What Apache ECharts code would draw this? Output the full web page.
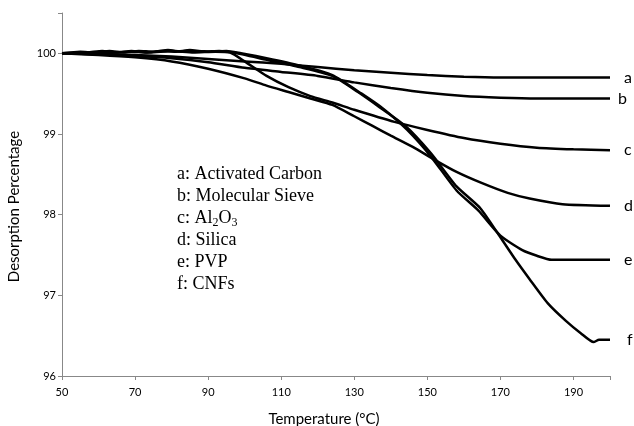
<!DOCTYPE html>
<html>
<head>
<meta charset="utf-8">
<script src="https://cdn.jsdelivr.net/npm/echarts@6.0.0/dist/echarts.min.js"></script>
<style>
  html, body { margin: 0; padding: 0; background: #fff; }
  #main { width: 634px; height: 426px; }
</style>
</head>
<body>
<div id="main"></div>
<script>
// desorption curves, [temperature, percentage]
var carbonData = [[50,100],[60,99.99],[70,99.98],[80,99.96],[90,99.93],[100,99.9],[110,99.87],[120,99.83],[130,99.79],[140,99.76],[150,99.73],[160,99.71],[170,99.7],[180,99.7],[190,99.7],[200,99.7]];
var sieveData = [[50,100],[60,99.99],[70,99.97],[80,99.94],[90,99.89],[100,99.82],[110,99.77],[120,99.72],[130,99.64],[140,99.57],[150,99.51],[160,99.47],[170,99.45],[180,99.44],[190,99.44],[200,99.44]];
var aluminaData = [[50,100],[56,100.01],[62,100],[68,100.02],[74,100.01],[80,100.03],[86,100.01],[92,100.02],[96,100.01],[100,99.9],[106,99.72],[112,99.58],[118,99.47],[124,99.39],[130,99.3],[141,99.15],[150,99.05],[160,98.95],[170,98.88],[180,98.83],[190,98.81],[200,98.8]];
var silicaData = [[50,100],[60,99.98],[70,99.95],[80,99.9],[90,99.81],[100,99.69],[106,99.6],[112,99.52],[118,99.44],[124,99.36],[130,99.22],[135,99.1],[140,98.98],[146,98.84],[152,98.68],[158,98.53],[165,98.39],[172,98.27],[178,98.2],[187,98.13],[200,98.11]];
var pvpData = [[50,100],[55,100.02],[59,100.01],[63,100.03],[67,100.01],[71,100.03],[75,100.02],[79,100.04],[83,100.02],[87,100.03],[91,100.02],[95,100.03],[99,100],[106,99.94],[115,99.85],[124,99.73],[132,99.5],[138,99.31],[144.5,99.05],[151,98.72],[158,98.3],[164,98.05],[170,97.74],[176,97.56],[180,97.49],[184,97.44],[190,97.44],[200,97.44]];
var cnfData = [[50,100],[57,100.01],[61,100.03],[65,100.01],[69,100.03],[73,100.01],[77,100.03],[81,100.02],[85,100.04],[89,100.02],[93,100.03],[97,100.01],[106,99.92],[115,99.83],[124,99.72],[131,99.52],[137,99.33],[144,99.1],[151,98.76],[158,98.35],[164.5,98.08],[170,97.72],[174,97.45],[178,97.2],[183,96.9],[188,96.68],[192,96.53],[195.5,96.42],[197,96.45],[200,96.45]];

var seriesNames = ['Activated Carbon', 'Molecular Sieve', 'Al2O3', 'Silica', 'PVP', 'CNFs'];
var endLetters = ['a', 'b', 'c', 'd', 'e', 'f'];
var allData = [carbonData, sieveData, aluminaData, silicaData, pvpData, cnfData];
var labelGaps = [14, 8, 14, 14, 14, 17];

var chart = echarts.init(document.getElementById('main'));

var series = allData.map(function (d, i) {
  return {
    name: seriesNames[i],
    type: 'line',
    data: d,
    smooth: 0.2,
    showSymbol: false,
    lineStyle: { color: '#000', width: 2.5 },
    endLabel: {
      show: true,
      formatter: endLetters[i],
      distance: labelGaps[i],
      color: '#000',
      fontFamily: 'Lato',
      fontSize: 16
    }
  };
});

chart.setOption({
  animation: false,
  grid: { left: 62, right: 24, top: 13, bottom: 50, outerBoundsMode: 'none' },
  xAxis: {
    type: 'value',
    min: 50,
    max: 200,
    interval: 20,
    name: 'Temperature (°C)',
    nameLocation: 'middle',
    nameGap: 36,
    nameTextStyle: { color: '#000', fontFamily: 'Lato', fontSize: 15, padding: [0, 24, 0, 0] },
    axisLine: { lineStyle: { color: '#888', width: 1 } },
    axisTick: { show: true, length: 4, lineStyle: { color: '#888' } },
    axisLabel: {
      color: '#000', fontFamily: 'Lato', fontSize: 11, margin: 11,
      formatter: function (v) { return v === 200 ? '' : v; }
    },
    splitLine: { show: false }
  },
  yAxis: {
    type: 'value',
    min: 96,
    max: 100.5,
    interval: 1,
    name: 'Desorption Percentage',
    nameLocation: 'middle',
    nameGap: 40,
    nameTextStyle: { color: '#000', fontFamily: 'Lato', fontSize: 15, padding: [0, 24, 0, 0] },
    axisLine: { show: true, lineStyle: { color: '#888', width: 1 } },
    axisTick: { show: true, length: 4, lineStyle: { color: '#888' } },
    axisLabel: {
      color: '#000', fontFamily: 'Lato', fontSize: 11, margin: 6,
      formatter: function (v) { return v % 1 === 0 ? v : ''; }
    },
    splitLine: { show: false }
  },
  graphic: [{
    type: 'text',
    left: 177,
    top: 163,
    style: {
      text: 'a: Activated Carbon\nb: Molecular Sieve\nc: Al{s|2}O{s|3}\nd: Silica\ne: PVP\nf: CNFs',
      fill: '#000',
      font: '18px "Liberation Serif"',
      lineHeight: 22,
      rich: {
        s: { fontSize: 12, fontFamily: 'Liberation Serif', fill: '#000', verticalAlign: 'bottom', lineHeight: 14 }
      }
    }
  }],
  series: series
});
</script>
</body>
</html>
